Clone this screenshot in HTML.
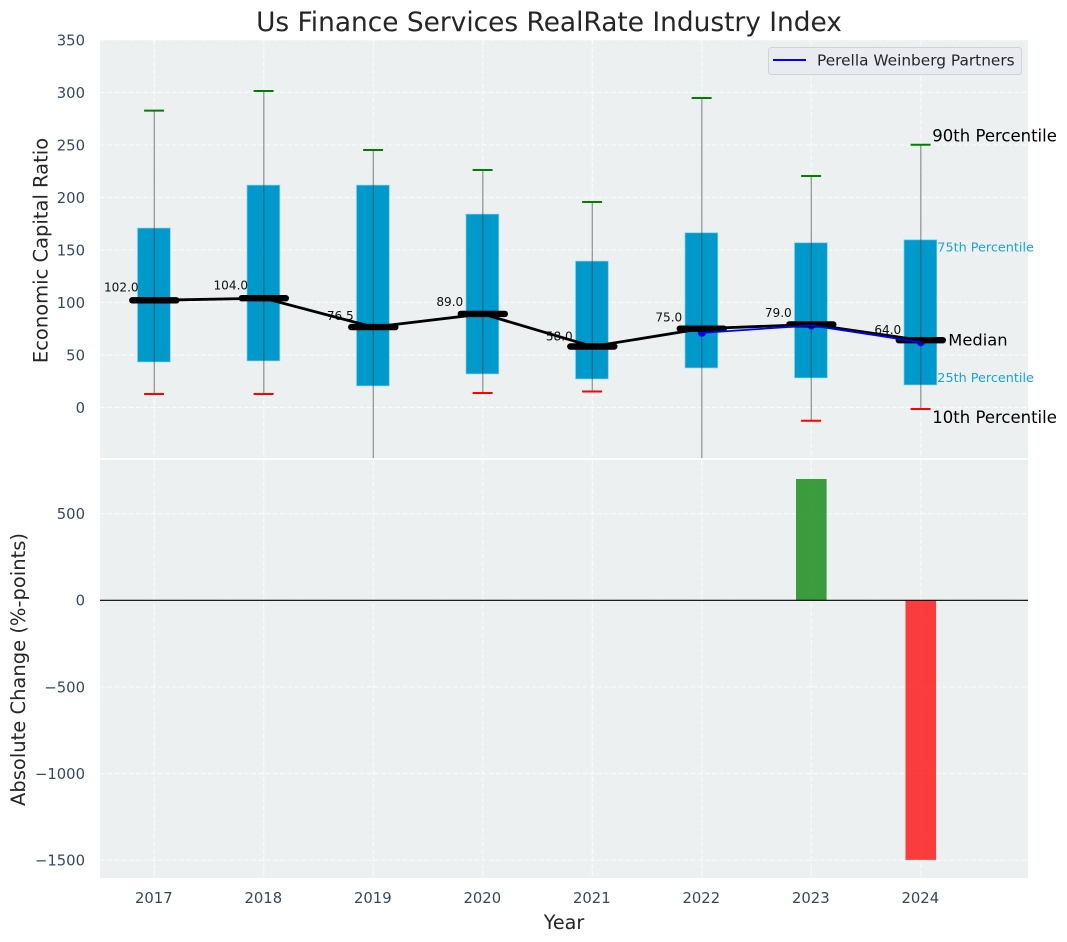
<!DOCTYPE html>
<html>
<head>
<meta charset="utf-8">
<title>Us Finance Services RealRate Industry Index</title>
<style>
html,body{margin:0;padding:0;background:#fff;}
svg{display:block;font-family:"DejaVu Sans","Liberation Sans",sans-serif;}
</style>
</head>
<body>
<svg id="chart" xmlns="http://www.w3.org/2000/svg" width="1067" height="942" viewBox="0 0 1067 942">
<defs>
<clipPath id="clip-top"><rect x="100" y="40" width="928" height="418"/></clipPath>
<clipPath id="clip-bottom"><rect x="100" y="460" width="928" height="418"/></clipPath>
</defs>
<rect x="100" y="40" width="928" height="418" fill="#ecf0f1"/>
<rect x="100" y="460" width="928" height="418" fill="#ecf0f1"/>
<g id="g-grid"></g>
<g id="g-top" clip-path="url(#clip-top)"></g>
<g id="g-bottom" clip-path="url(#clip-bottom)"></g>
<g id="g-labels"></g>
<g id="g-ticks"></g>
<text x="549" y="31" text-anchor="middle" font-size="26.4" fill="#262626">Us Finance Services RealRate Industry Index</text>
<text transform="translate(47.5,250.5) rotate(-90)" text-anchor="middle" font-size="19.5" fill="#262626">Economic Capital Ratio</text>
<text transform="translate(25,669.5) rotate(-90)" text-anchor="middle" font-size="19.5" fill="#262626">Absolute Change (%-points)</text>
<text x="564" y="929" text-anchor="middle" font-size="19.2" fill="#262626">Year</text>
<g>
<rect x="768.5" y="47.5" width="253" height="27" rx="3" fill="#e9ebf0" stroke="#cfd2d6" stroke-width="1"/>
<line x1="773" y1="60" x2="806" y2="60" stroke="#0000ff" stroke-width="2"/>
<text x="817" y="65.5" font-size="15.35" fill="#262626">Perella Weinberg Partners</text>
</g>
</svg>
<script>
const years = [2017, 2018, 2019, 2020, 2021, 2022, 2023, 2024];
const p90 = [282.6, 301.3, 245.1, 226.1, 195.6, 294.7, 220.4, 250.2];
const p75 = [170.9, 211.8, 211.8, 184.2, 139.4, 166.4, 156.9, 159.7];
const median = [102, 104, 76.5, 89, 58, 75, 79, 64];
const p25 = [43.2, 44.2, 20.4, 31.8, 27, 37.5, 28, 21.3];
const p10 = [12.8, 12.8, -120, 13.7, 15.1, -120, -12.7, -1.5];
const companyYears = [2022, 2023, 2024];
const companyValues = [71, 78, 62];
const absoluteChange = [null, null, null, null, null, null, 700, -1498];
const topTicks = [0, 50, 100, 150, 200, 250, 300, 350];
const bottomTicks = [-1500, -1000, -500, 0, 500];

const NS = 'http://www.w3.org/2000/svg';
const xScale = function (v) { return 154.3 + (v - 2017) * 109.5; };
const yTop = function (v) { return 407.4 - v * 1.05; };
const yBottom = function (v) { return 600.3 - v * 0.1733; };

function make(parent, tag, attrs, txt) {
  const el = document.createElementNS(NS, tag);
  for (const k in attrs) el.setAttribute(k, attrs[k]);
  if (txt !== undefined) el.textContent = txt;
  parent.appendChild(el);
  return el;
}

const gGrid = document.getElementById('g-grid');
const gTop = document.getElementById('g-top');
const gBottom = document.getElementById('g-bottom');
const gLabels = document.getElementById('g-labels');
const gTicks = document.getElementById('g-ticks');
const gridStyle = { stroke: '#ffffff', 'stroke-width': 1.1, 'stroke-dasharray': '5 2.2', 'stroke-opacity': 0.75 };
const tickColor = '#34495e';
const tickSize = 14.8;

years.forEach(function (yr) {
  const x = xScale(yr);
  const a = make(gGrid, 'line', Object.assign({ x1: x, x2: x, y1: 40, y2: 458 }, gridStyle));
  
  
  const b = make(gGrid, 'line', Object.assign({ x1: x, x2: x, y1: 460, y2: 878 }, gridStyle));
  
  
  const t = make(gTicks, 'text', { x: x - 0.5, y: 903, 'text-anchor': 'middle', 'font-size': tickSize, fill: tickColor }, String(yr));
  
  
});

topTicks.forEach(function (v) {
  const y = yTop(v);
  const g = make(gGrid, 'line', Object.assign({ x1: 100, x2: 1028, y1: y, y2: y }, gridStyle));
  
  
  const t = make(gTicks, 'text', { x: 85, y: y + 5.6, 'text-anchor': 'end', 'font-size': tickSize, fill: tickColor }, String(v));
  
  
});

bottomTicks.forEach(function (v) {
  const y = yBottom(v);
  const g = make(gGrid, 'line', Object.assign({ x1: 100, x2: 1028, y1: y, y2: y }, gridStyle));
  
  
  const t = make(gTicks, 'text', { x: 85, y: y + 5.4, 'text-anchor': 'end', 'font-size': tickSize, fill: tickColor }, String(v).replace('-', '\u2212'));
  
  
});

/* boxes */
years.forEach(function (yr, i) {
  const x = xScale(yr) - 0.4;
  const hw = 16.5;
  const box = make(gTop, 'rect', { x: x - hw, y: yTop(p75[i]), width: hw * 2, height: yTop(p25[i]) - yTop(p75[i]), fill: '#0099cc', stroke: '#a8dcee', 'stroke-width': 1, 'stroke-opacity': 0.7 });
  
  
});

/* value labels, beneath the median line */
years.forEach(function (yr, i) {
  const t = make(gTop, 'text', { x: xScale(yr) - 33, y: yTop(median[i]) - 2.5 - 0.06 * median[i], 'text-anchor': 'middle', 'font-size': 12.1, fill: '#111111' }, median[i].toFixed(1));
  
  
});

/* whiskers and caps */
years.forEach(function (yr, i) {
  const x = xScale(yr);
  const w = make(gTop, 'line', { x1: x, x2: x, y1: yTop(p90[i]), y2: yTop(p10[i]), stroke: '#33393c', 'stroke-opacity': 0.5, 'stroke-width': 1.3 });
  
  
  const c1 = make(gTop, 'line', { x1: x - 10.2, x2: x + 9.8, y1: yTop(p90[i]), y2: yTop(p90[i]), stroke: '#008000', 'stroke-width': 2 });
  
  
  const c2 = make(gTop, 'line', { x1: x - 10.2, x2: x + 9.8, y1: yTop(p10[i]), y2: yTop(p10[i]), stroke: '#ff0000', 'stroke-width': 2 });
  
  
});

/* company markers */
companyYears.forEach(function (yr, i) {
  const m = make(gTop, 'circle', { cx: xScale(yr), cy: yTop(companyValues[i]), r: 4, fill: '#0000ee' });
  
  
});

/* median line and caps */
const medianPath = make(gTop, 'polyline', { points: years.map(function (yr, i) { return xScale(yr) + ',' + yTop(median[i]); }).join(' '), fill: 'none', stroke: '#000000', 'stroke-width': 2.8 });


years.forEach(function (yr, i) {
  const x = xScale(yr);
  const y = yTop(median[i]);
  const c = make(gTop, 'line', { x1: x - 22, x2: x + 22, y1: y, y2: y, stroke: '#000000', 'stroke-width': 6.4, 'stroke-linecap': 'round' });
  
  
});

/* company line */
const companyPath = make(gTop, 'polyline', { points: companyYears.map(function (yr, i) { return xScale(yr) + ',' + yTop(companyValues[i]); }).join(' '), fill: 'none', stroke: '#0000ff', 'stroke-width': 1.7 });



/* change bars */
years.forEach(function (yr, i) {
  const v = absoluteChange[i];
  if (v === null) return;
  const y0 = yBottom(0);
  const y1 = yBottom(v);
  const bar = make(gBottom, 'rect', { x: xScale(yr) - 15.3, y: Math.min(y0, y1), width: 30.6, height: Math.abs(y1 - y0), fill: v >= 0 ? '#008000' : '#ff0000', 'fill-opacity': 0.75 });
  
  
});
const zero = make(gBottom, 'line', { x1: 100, x2: 1028, y1: yBottom(0), y2: yBottom(0), stroke: '#000000', 'stroke-width': 1.2 });



/* percentile annotations attached to the last year */
const last = years.length - 1;
const lastX = xScale(years[last]);
const a90 = make(gLabels, 'text', { x: lastX + 11.5, y: yTop(p90[last]) - 3, 'font-size': 16.5, fill: '#000000' }, '90th Percentile');


const a75 = make(gLabels, 'text', { x: lastX + 16.5, y: yTop(p75[last]) + 12, 'font-size': 12.8, fill: '#1aa3d1' }, '75th Percentile');


const aMed = make(gLabels, 'text', { x: lastX + 27.5, y: yTop(median[last]) + 5.5, 'font-size': 16.3, fill: '#000000' }, 'Median');


const a25 = make(gLabels, 'text', { x: lastX + 16.5, y: yTop(p25[last]) - 3, 'font-size': 12.8, fill: '#1aa3d1' }, '25th Percentile');


const a10 = make(gLabels, 'text', { x: lastX + 11.5, y: yTop(p10[last]) + 14, 'font-size': 16.5, fill: '#000000' }, '10th Percentile');


</script>
</body>
</html>
